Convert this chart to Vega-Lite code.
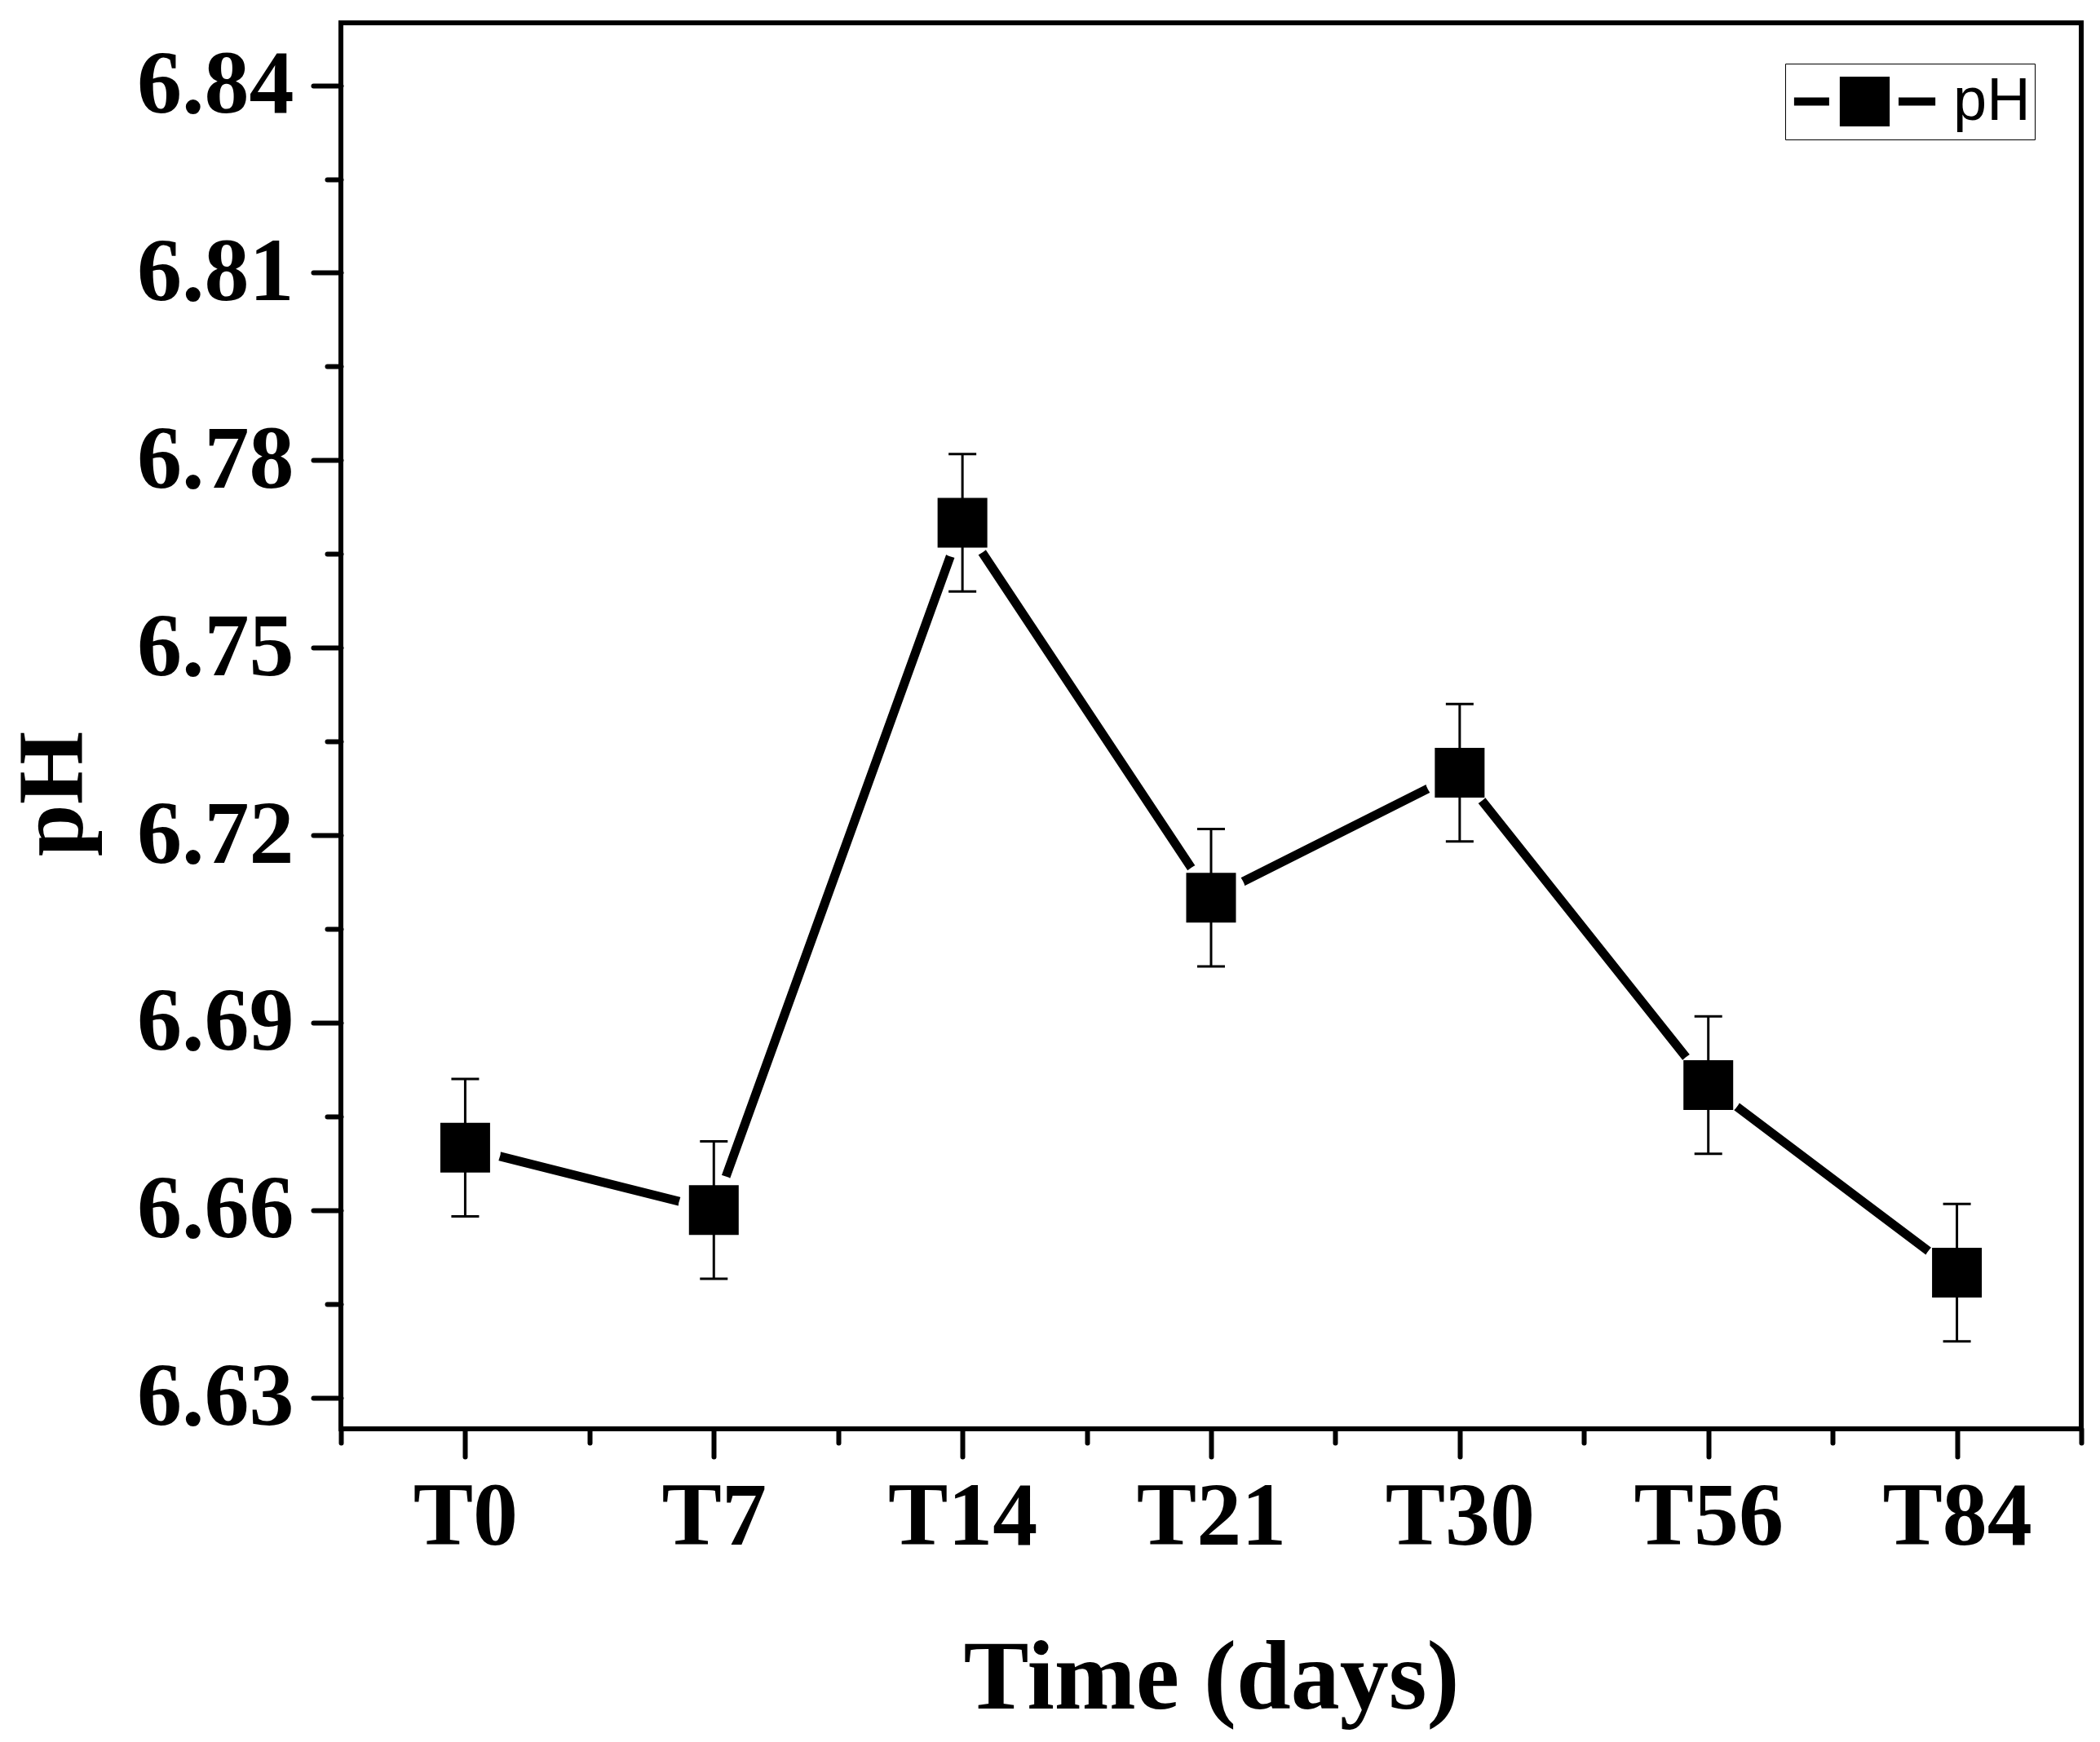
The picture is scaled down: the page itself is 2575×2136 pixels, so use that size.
{
  "$schema": "https://vega.github.io/schema/vega-lite/v6.json",
  "width": 2134,
  "height": 1724,
  "autosize": {"type": "none"},
  "padding": {"left": 418, "top": 28, "right": 23, "bottom": 384},
  "background": "white",
  "config": {
    "view": {"stroke": "black", "strokeWidth": 6},
    "axis": {
      "domain": false,
      "grid": false,
      "labelFont": "Liberation Serif",
      "labelFontWeight": "bold",
      "labelFontSize": 110,
      "labelColor": "black",
      "labelLimit": 0,
      "titleFont": "Liberation Serif",
      "titleFontWeight": "bold",
      "titleColor": "black",
      "tickColor": "black",
      "tickWidth": 6,
      "tickCap": "round"
    }
  },
  "data": {
    "values": [
      {"time": "T0", "idx": 0, "ph": 6.67, "lo": 6.659, "hi": 6.681},
      {"time": "T7", "idx": 1, "ph": 6.66, "lo": 6.649, "hi": 6.671},
      {"time": "T14", "idx": 2, "ph": 6.77, "lo": 6.759, "hi": 6.781},
      {"time": "T21", "idx": 3, "ph": 6.71, "lo": 6.699, "hi": 6.721},
      {"time": "T30", "idx": 4, "ph": 6.73, "lo": 6.719, "hi": 6.741},
      {"time": "T56", "idx": 5, "ph": 6.68, "lo": 6.669, "hi": 6.691},
      {"time": "T84", "idx": 6, "ph": 6.65, "lo": 6.639, "hi": 6.661}
    ]
  },
  "encoding": {
    "x": {
      "field": "idx",
      "type": "quantitative",
      "scale": {"domain": [-0.5, 6.5], "nice": false, "zero": false},
      "axis": {
        "title": "Time (days)",
        "values": [-0.5, 0, 0.5, 1, 1.5, 2, 2.5, 3, 3.5, 4, 4.5, 5, 5.5, 6, 6.5],
        "labelExpr": "['T0','T7','T14','T21','T30','T56','T84'][datum.value] || ''",
        "tickSize": {"condition": {"test": "datum.value % 1 === 0", "value": 34}, "value": 17},
        "labelPadding": 20,
        "labelFlush": false,
        "labelOverlap": false,
        "titleFontSize": 120,
        "titleBaseline": "alphabetic",
        "titleY": 342
      }
    },
    "y": {
      "field": "ph",
      "type": "quantitative",
      "scale": {"domain": [6.625, 6.85], "nice": false, "zero": false},
      "axis": {
        "title": "pH",
        "values": [6.63, 6.645, 6.66, 6.675, 6.69, 6.705, 6.72, 6.735, 6.75, 6.765, 6.78, 6.795, 6.81, 6.825, 6.84],
        "format": ".2f",
        "labelExpr": "round(datum.value * 1000) % 30 === 0 ? datum.label : ''",
        "tickSize": {"condition": {"test": "round(datum.value * 1000) % 30 === 0", "value": 34}, "value": 17},
        "labelPadding": 24,
        "labelOverlap": false,
        "titleFontSize": 115,
        "titleAngle": -90,
        "titleBaseline": "alphabetic",
        "titleX": -318,
        "titleY": 945
      }
    }
  },
  "layer": [
    {
      "mark": {"type": "line", "color": "black", "strokeWidth": 11, "strokeCap": "round"}
    },
    {
      "mark": {"type": "point", "shape": "circle", "filled": true, "color": "white", "opacity": 1, "size": 7744}
    },
    {
      "mark": {"type": "rule", "color": "black", "strokeWidth": 3},
      "encoding": {
        "y": {"field": "lo", "type": "quantitative"},
        "y2": {"field": "hi"}
      }
    },
    {
      "mark": {"type": "tick", "orient": "horizontal", "color": "black", "size": 34, "thickness": 3, "opacity": 1},
      "encoding": {"y": {"field": "lo", "type": "quantitative"}}
    },
    {
      "mark": {"type": "tick", "orient": "horizontal", "color": "black", "size": 34, "thickness": 3, "opacity": 1},
      "encoding": {"y": {"field": "hi", "type": "quantitative"}}
    },
    {
      "mark": {"type": "point", "shape": "square", "filled": true, "opacity": 1, "size": 3721},
      "encoding": {
        "color": {
          "datum": "pH",
          "type": "nominal",
          "scale": {"range": ["black"]},
          "legend": {
            "title": null,
            "orient": "none",
            "legendX": 1771,
            "legendY": 50,
            "padding": 5,
            "clipHeight": 83,
            "strokeColor": "black",
            "symbolType": "M-1.02,0H0.39M0.98,-0.84H2.66V0.84H0.98ZM3.18,0H4.66",
            "symbolSize": 3721,
            "symbolFillColor": "black",
            "symbolStrokeColor": "black",
            "symbolStrokeWidth": 10,
            "symbolOpacity": 1,
            "labelFont": "Liberation Sans",
            "labelFontSize": 74,
            "labelColor": "black",
            "labelOffset": 127
          }
        }
      }
    }
  ]
}
